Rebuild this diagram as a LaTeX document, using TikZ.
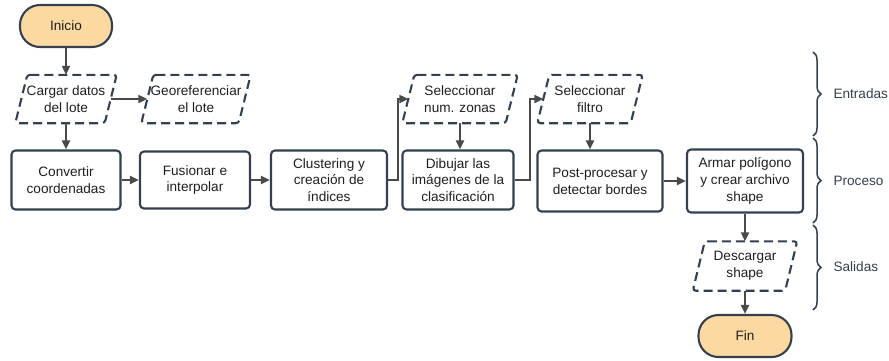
\documentclass[tikz,border=0pt]{standalone}
\usepackage{fontspec}
\setmainfont{Liberation Sans}
\usetikzlibrary{arrows.meta,decorations.pathreplacing,calc}
\definecolor{bord}{HTML}{34404E}
\definecolor{arr}{HTML}{4A4A4A}
\definecolor{term}{HTML}{FDD9A2}
\tikzset{
  x=1pt,y=1pt,
  txt/.style={align=center,font=\fontsize{13.6}{16.8}\selectfont,text=black!88},
  procbox/.style={txt,draw=bord,line width=2.1pt,rounded corners=4pt,fill=white,inner sep=0pt},
  termbox/.style={txt,draw=bord,line width=2.1pt,rounded corners=20pt,fill=term,inner sep=0pt},
  iobox/.style={txt,inner sep=0pt},
  ioline/.style={draw=bord,line width=2.1pt,dash pattern=on 9pt off 5pt,rounded corners=3pt},
  conn/.style={draw=arr,line width=2.1pt,-{Triangle[length=9pt,width=8pt]}},
  brc/.style={draw=bord,line width=1.5pt,decorate,decoration={brace,amplitude=8pt}},
  lab/.style={txt,anchor=west,text=bord}
}
\newcommand{\iopara}[5]{%
  \node[iobox,minimum width=#3,minimum height=#4] (#1) at #2 {#5};
  \draw[ioline] ($(#1.north west)+(12,0)$) -- (#1.north east) -- ($(#1.south east)-(12,0)$) -- (#1.south west) -- cycle;
}
\begin{document}
\begin{tikzpicture}
\useasboundingbox (0,0) rectangle (889,-360);
% terminals
\node[termbox,minimum width=92,minimum height=42] (inicio) at (66,-26) {Inicio};
\node[termbox,minimum width=93,minimum height=42] (fin) at (745,-336) {Fin};
% io
\iopara{cargar}{(66,-99)}{101}{48}{Cargar datos\\del lote}
\iopara{geo}{(196,-99)}{109}{48}{Georeferenciar\\el lote}
\iopara{selz}{(460,-99)}{115}{48}{Seleccionar\\num. zonas}
\iopara{self}{(590,-99)}{105}{48}{Seleccionar\\filtro}
\iopara{desc}{(745,-266)}{104}{49}{Descargar\\shape}
% process
\node[procbox,minimum width=109,minimum height=59] (conv) at (66,-180) {Convertir\\coordenadas};
\node[procbox,minimum width=110,minimum height=57] (fus) at (195,-180) {Fusionar e\\interpolar};
\node[procbox,minimum width=116,minimum height=59] (clu) at (329,-180) {Clustering y\\creación de\\índices};
\node[procbox,minimum width=111,minimum height=59] (dib) at (458,-180) {Dibujar las\\imágenes de la\\clasificación};
\node[procbox,minimum width=125,minimum height=61] (post) at (600,-181) {Post-procesar y\\detectar bordes};
\node[procbox,minimum width=116,minimum height=63] (arm) at (745,-181) {Armar polígono\\y crear archivo\\shape};
% connectors
\draw[conn] (inicio.south) -- (cargar.north);
\draw[conn] ($(cargar.east)-(6,0)$) -- ($(geo.west)+(6,0)$);
\draw[conn] (cargar.south) -- (conv.north);
\draw[conn] (conv.east) -- (fus.west);
\draw[conn] (fus.east) -- (clu.west);
\draw[conn] (clu.east) -- ++(10,0) |- ($(selz.west)+(6,0)$);
\draw[conn] (selz.south) -- (selz.south |- dib.north);
\draw[conn] (dib.east) -- ++(15,0) |- ($(self.west)+(6,0)$);
\draw[conn] (self.south) -- (self.south |- post.north);
\draw[conn] (post.east) -- (arm.west);
\draw[conn] (arm.south) -- (desc.north);
\draw[conn] (desc.south) -- (fin.north);
% braces
\coordinate (b1) at (813,-52);
\coordinate (b2) at (813,-136);
\coordinate (b3) at (813,-138);
\coordinate (b4) at (813,-223);
\coordinate (b5) at (813,-225);
\coordinate (b6) at (813,-310);
\draw[brc] (b1) -- (b2);
\draw[brc] (b3) -- (b4);
\draw[brc] (b5) -- (b6);
\node[lab] (ent) at (830,-94) {Entradas};
\node[lab] (pro) at (830,-181) {Proceso};
\node[lab] (sal) at (830,-267) {Salidas};
\end{tikzpicture}
\end{document}
